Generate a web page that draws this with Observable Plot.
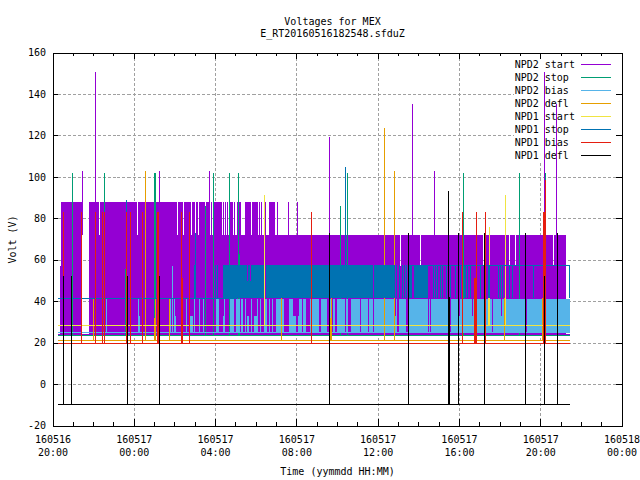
<!DOCTYPE html>
<html><head><meta charset="utf-8">
<script src="https://cdn.jsdelivr.net/npm/d3@7"></script>
<script src="https://cdn.jsdelivr.net/npm/@observablehq/plot@0.6"></script>
<style>html,body{margin:0;padding:0;background:#fff}svg{display:block}</style>
</head><body><div id="c"></div>
<script>
// time axis: hours after 160516 20:00
const xTicks=[0,4,8,12,16,20,24,28];
const xDays=["160516","160517","160517","160517","160517","160517","160517","160518"];
const xTimes=["20:00","00:00","04:00","08:00","12:00","16:00","20:00","00:00"];
const xMinor=[1,2,3,5,6,7,9,10,11,13,14,15,17,18,19,21,22,23,25,26,27];
const yTicks=[-20,0,20,40,60,80,100,120,140,160];
const labels=["NPD2 start","NPD2 stop","NPD2 bias","NPD2 defl","NPD1 start","NPD1 stop","NPD1 bias","NPD1 defl"];
const colors=["#9400d3","#009e73","#56b4e9","#e69f00","#f0e442","#0072b2","#e51e10","#000000"];
const tStart=0.28,tEnd=25.45;

// NPD2 start
const start2Base=24.3, start2Mid=57, start2Low=72, start2High=88;
const start2LowBlocks=[[0.38,1.46],[1.81,25.29]];
const start2MidBlocks=[[0.43,1.46],[1.81,17.12],[17.17,18.10],[18.15,21.18],[21.23,22.44],[22.49,22.78],[22.83,24.65],[24.70,25.29]];
const start2HighBlocks=[[0.43,1.46],[1.81,2.30],[2.35,4.17],[4.22,6.14],[6.19,6.43],[6.48,6.83],[6.88,7.03],[7.08,7.17],[7.22,7.52],[7.57,7.72],[7.81,7.86],[7.91,8.35],[8.40,8.45],[8.50,8.55],[8.60,8.65],[8.70,8.90],[8.95,9.00],[9.09,9.29],[9.48,9.78],[9.83,10.12],[10.17,10.22],[10.27,10.32],[10.46,10.51],[10.66,10.96],[11.05,11.10],[11.60,11.65],[12.04,12.09]];
const start2Spikes=[[1.43,103],[2.07,150.5],[5.22,103],[7.68,103],[13.59,119],[17.68,135],[18.76,103],[24.18,150.5],[24.77,135]];
// NPD2 stop
const stop2Base=23.8;
const stop2Spikes=[[0.98,102],[2.51,102],[3.59,55.4],[5.00,102],[5.05,102],[7.48,86],[7.88,102],[8.71,102],[9.11,102],[9.16,63],[14.13,86],[14.48,102],[20.19,102],[22.94,102],[24.23,102]];
// NPD2 bias
const bias2Base=25, bias2Top=41, bias2Part=33;
const bias2Blocks=[[2.64,2.69],[4.19,4.24],[5.79,5.84],[5.99,6.04],[6.38,6.43],[6.58,6.63],[6.97,7.02],[7.22,7.27],[7.41,7.46],[8.05,8.20],[8.45,8.50],[8.74,8.94],[9.04,9.24],[9.29,9.39],[9.48,9.53],[9.78,9.83],[10.07,10.12],[10.22,10.27],[10.42,10.56],[10.66,10.71],[10.81,10.86],[11.01,11.40],[11.65,11.84],[12.14,12.29],[12.34,12.49],[12.68,13.12],[13.22,13.52],[13.61,13.71],[13.81,13.91],[14.01,14.40],[14.45,14.55],[14.70,15.14],[15.19,15.54],[15.58,15.78],[15.83,16.86],[16.91,16.96],[17.06,17.40],[17.55,18.49],[18.54,18.59],[18.63,19.57],[19.62,20.01],[20.06,20.65],[20.70,21.63],[21.68,22.07],[22.12,23.31],[23.36,25.45]];
const bias2PartBlocks=[[4.24,4.29],[6.04,6.09],[6.78,6.92],[8.40,8.45],[9.58,9.68],[9.93,10.07],[11.84,11.99],[12.09,12.14],[16.86,16.91],[20.01,20.06],[20.65,20.70],[22.07,22.12]];
const bias2Spikes=[[5.89,57]];
// NPD2 defl
const defl2Base=21.5;
const defl2Blocks=[[5.00,5.10],[13.67,13.76]];
const defl2BlockTop=32;
const defl2Spikes=[[1.97,41.5],[4.53,103],[5.06,41.5],[5.71,41.5],[11.23,41.5],[13.72,41.5],[16.30,123.5],[16.79,103],[22.21,41.5],[24.10,41.5]];
// NPD1 start
const start1Base=28.7;
const start1Blocks=[[21.44,21.54]];
const start1BlockTop=49.6;
const start1Spikes=[[10.39,91],[21.47,75.7],[22.26,91]];
// NPD1 stop
const stop1Low=41.6, stop1High=57.4, stop1Part=49.6;
const stop1LowEnd=9.1, stop1HighStart=17.7;
const stop1Blocks=[[6.97,7.07],[8.01,8.06],[8.11,8.16],[8.40,9.58],[9.63,9.73],[9.78,10.42],[10.52,15.78],[15.83,16.86],[16.91,16.96],[17.06,17.11],[17.21,17.26],[17.31,17.36],[17.41,17.46],[17.51,17.71],[17.81,18.49],[18.74,18.79],[18.84,18.89],[18.94,18.99],[19.09,19.14],[19.19,19.24],[19.38,19.43],[19.58,19.63],[19.82,19.87],[20.07,20.12],[20.27,20.37],[20.41,20.46],[20.56,20.61],[21.05,21.10],[21.44,21.54],[21.93,21.98],[22.03,22.08],[22.12,22.17],[22.47,22.52],[22.62,22.67],[23.65,23.70],[25.40,25.45]];
const stop1PartBlocks=[[9.58,9.63],[9.73,9.78]];
const stop1Spikes=[[3.64,88.7],[6.99,73],[14.38,104.7]];
// NPD1 bias
const bias1Base=19.6;
const bias1Blocks=[[1.38,1.45],[6.30,6.40],[20.75,20.85]];
const bias1BlockTop=51;
const bias1Spikes=[[0.54,83],[1.38,83],[2.07,83],[2.46,83],[2.52,83],[3.64,83],[3.79,83],[4.38,83],[5.14,83],[5.19,83],[6.31,83],[6.74,83],[12.74,83],[20.14,83],[20.83,83],[21.27,83],[24.14,83],[24.19,83],[24.26,98.4]];
// NPD1 defl
const defl1Base=-9.4;
const defl1Spikes=[[0.54,52],[0.89,52],[3.69,52],[5.22,52],[13.59,73],[17.48,73],[19.45,93],[19.50,42],[19.94,73],[21.22,73],[23.24,73],[24.18,52],[24.82,73]];

const crisp={shapeRendering:"crispEdges"};
const blocks=(data,y1,y2,fill)=>Plot.rect(data,{x1:d=>d[0],x2:d=>d[1],y1,y2,fill,...crisp});
const spikes=(data,base,stroke)=>Plot.ruleX(data,{x:d=>d[0],y1:base,y2:d=>d[1],stroke,strokeWidth:1,...crisp});
const baseLine=(y,stroke,a=tStart,b=tEnd)=>Plot.ruleY([y],{x1:a,x2:b,stroke,strokeWidth:1,...crisp});
const [cP,cG,cL,cO,cY,cB,cR,cK]=colors;
const grid={stroke:"#a0a0a0",strokeWidth:1,strokeDasharray:"3,2",...crisp};
const mono={fontFamily:"DejaVu Sans Mono",fontSize:10};

document.getElementById("c").append(Plot.plot({
  width:640,height:480,marginLeft:52.5,marginRight:18.5,marginTop:52.5,marginBottom:54.5,
  style:{background:"#fff",fontFamily:"DejaVu Sans Mono",fontSize:"10px",color:"#000",overflow:"visible"},
  x:{domain:[0,28],label:null},
  y:{domain:[-20,160],label:null},
  marks:[
    Plot.ruleX(xTicks,{...grid}),
    Plot.ruleY(yTicks,{...grid}),
    // key box, under the data as in the reference
    Plot.rect([0],{x1:22.7,x2:27.8,y1:107.6,y2:157.7,fill:"#fff",...crisp}),
    Plot.text(labels,{x:22.72,y:(d,i)=>154.5-i*6.27,text:d=>d,textAnchor:"start",...mono}),
    Plot.ruleY(colors,{x1:26.03,x2:27.46,y:(d,i)=>154.5-i*6.27,stroke:d=>d,strokeWidth:1,...crisp}),
    // NPD2 start
    blocks(start2LowBlocks,start2Base,start2Mid,cP),
    blocks(start2MidBlocks,start2Mid,start2Low,cP),
    blocks(start2HighBlocks,start2Low,start2High,cP),
    spikes(start2Spikes,start2Low,cP),
    baseLine(start2Base,cP),
    // NPD2 stop
    spikes(stop2Spikes,stop2Base,cG),
    baseLine(stop2Base,cG),
    // NPD2 bias
    blocks(bias2Blocks,bias2Base,bias2Top,cL),
    blocks(bias2PartBlocks,bias2Base,bias2Part,cL),
    spikes(bias2Spikes,bias2Base,cL),
    baseLine(bias2Base,cL),
    // NPD2 defl
    blocks(defl2Blocks,defl2Base,defl2BlockTop,cO),
    spikes(defl2Spikes,defl2Base,cO),
    baseLine(defl2Base,cO),
    // NPD1 start
    blocks(start1Blocks,start1Base,start1BlockTop,cY),
    spikes(start1Spikes,start1Base,cY),
    baseLine(start1Base,cY),
    // NPD1 stop
    blocks(stop1Blocks,stop1Low,stop1High,cB),
    blocks(stop1PartBlocks,stop1Low,stop1Part,cB),
    spikes(stop1Spikes,stop1Low,cB),
    baseLine(stop1Low,cB,tStart,stop1LowEnd),
    baseLine(stop1High,cB,stop1HighStart,tEnd),
    // NPD1 bias
    blocks(bias1Blocks,bias1Base,bias1BlockTop,cR),
    spikes(bias1Spikes,bias1Base,cR),
    baseLine(bias1Base,cR),
    // NPD1 defl
    spikes(defl1Spikes,defl1Base,cK),
    baseLine(defl1Base,cK),
    // frame, inward ticks
    Plot.frame({stroke:"#000",strokeWidth:1,...crisp}),
    Plot.ruleX(xMinor,{y1:-20,y2:-18.5,stroke:"#000",...crisp}),
    Plot.ruleX(xMinor,{y1:160,y2:158.5,stroke:"#000",...crisp}),
    Plot.ruleX(xTicks,{y1:-20,y2:-17,stroke:"#000",...crisp}),
    Plot.ruleX(xTicks,{y1:160,y2:157,stroke:"#000",...crisp}),
    Plot.ruleY(yTicks,{x1:0,x2:0.28,stroke:"#000",...crisp}),
    Plot.ruleY(yTicks,{x1:27.72,x2:28,stroke:"#000",...crisp}),
    Plot.axisX(xTicks,{tickSize:0,tickPadding:8,lineHeight:1.3,label:null,
      tickFormat:d=>xDays[xTicks.indexOf(d)]+"\n"+xTimes[xTicks.indexOf(d)],...mono}),
    Plot.axisY(yTicks,{tickSize:0,tickPadding:7,label:null,tickFormat:d=>String(d),...mono}),
    Plot.text(["Voltages for MEX"],{frameAnchor:"top",lineAnchor:"middle",dx:-5,dy:-31,...mono}),
    Plot.text(["E_RT20160516182548.sfduZ"],{frameAnchor:"top",lineAnchor:"middle",dx:-5,dy:-19,...mono}),
    Plot.text(["Time (yymmdd HH:MM)"],{frameAnchor:"bottom",lineAnchor:"middle",dy:46,...mono}),
    Plot.text(["Volt (V)"],{frameAnchor:"left",textAnchor:"middle",lineAnchor:"middle",rotate:-90,dx:-40,...mono})
  ]
}));
</script></body></html>
